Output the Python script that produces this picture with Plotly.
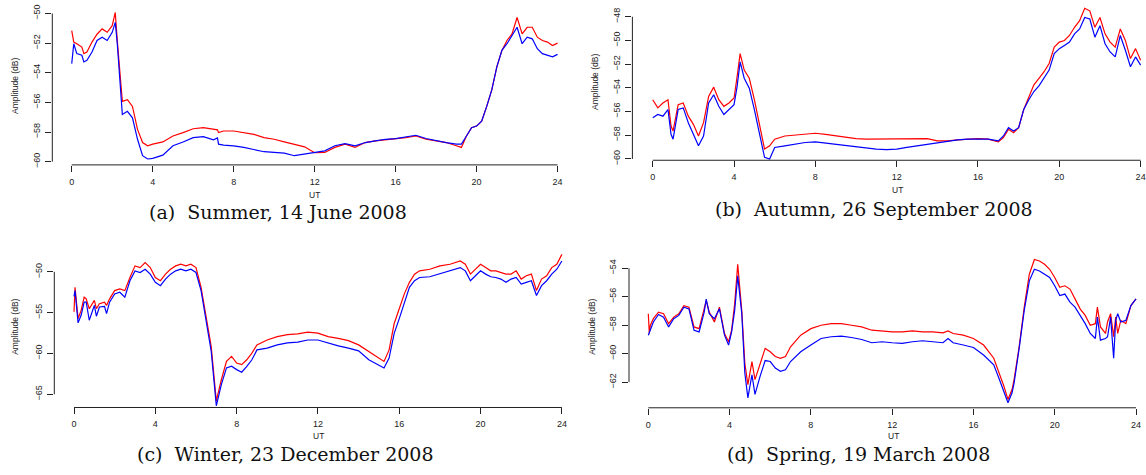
import plotly.graph_objects as go

W, H = 1146, 475

# ---------------- data ----------------
# (a) Summer, 14 June 2008
T_A = [0, 0.1, 0.25, 0.5, 0.6, 0.75, 1.0, 1.25, 1.5, 1.75, 2.0, 2.15, 2.25, 2.4, 2.5, 2.75, 3.0, 3.25, 3.5, 3.75,
       4.0, 4.5, 5.0, 5.5, 6.0, 6.5, 7.0, 7.2, 7.25, 7.5, 8.0, 8.5, 9.0, 9.5, 10.0, 10.5, 11.0, 11.5, 12.0, 12.5,
       13.0, 13.5, 14.0, 14.5, 15.0, 15.5, 16.0, 16.5, 17.0, 17.5, 18.0, 18.5, 19.0, 19.25, 19.5, 19.75, 20.0,
       20.25, 20.5, 20.75, 21.0, 21.25, 21.5, 21.75, 22.0, 22.25, 22.5, 22.75, 23.0, 23.25, 23.5, 23.75, 24.0]
RED_A = [-51.16, -51.93, -52.04, -52.27, -52.71, -52.6, -51.93, -51.4, -51.04, -51.27, -50.82, -49.93, -51.82,
         -54.7, -55.93, -55.82, -56.27, -57.82, -58.71, -58.93, -58.82, -58.67, -58.27, -58.04, -57.78, -57.71,
         -57.82, -57.85, -58.04, -57.93, -57.93, -58.04, -58.16, -58.38, -58.49, -58.67, -58.82, -59.0, -59.4,
         -59.38, -59.04, -58.82, -59.04, -58.71, -58.6, -58.53, -58.49, -58.38, -58.27, -58.49, -58.6, -58.71,
         -58.93, -59.04, -58.27, -57.71, -57.6, -57.27, -56.27, -55.16, -53.6, -52.49, -51.82, -51.38, -50.27,
         -51.38, -50.93, -50.93, -51.6, -51.82, -51.93, -52.16, -52.0]
BLUE_A = [-53.38, -52.04, -52.71, -52.82, -53.27, -53.16, -52.6, -51.82, -51.6, -51.82, -51.27, -50.6, -52.04,
          -54.93, -56.82, -56.6, -57.04, -58.49, -59.6, -59.82, -59.78, -59.56, -58.93, -58.67, -58.38, -58.31,
          -58.53, -58.4, -58.82, -58.89, -58.93, -59.04, -59.2, -59.33, -59.38, -59.42, -59.6, -59.49, -59.4,
          -59.27, -58.93, -58.78, -58.93, -58.71, -58.6, -58.49, -58.44, -58.33, -58.22, -58.44, -58.6, -58.71,
          -58.82, -58.82, -58.27, -57.71, -57.6, -57.27, -56.27, -55.16, -53.6, -52.49, -52.04, -51.49, -50.93,
          -52.04, -51.6, -51.71, -52.38, -52.71, -52.82, -52.93, -52.76]

# (b) Autumn, 26 September 2008
T_B = [0, 0.25, 0.5, 0.75, 0.9, 1.0, 1.25, 1.5, 1.75, 2.0, 2.25, 2.5, 2.75, 3.0, 3.25, 3.5, 3.75, 4.0, 4.15, 4.3,
       4.5, 4.75, 5.0, 5.25, 5.5, 5.75, 6.0, 6.5, 7.0, 7.5, 8.0, 8.5, 9.0, 9.5, 10.0, 10.5, 11.0, 11.5, 12.0, 12.5,
       13.0, 13.5, 14.0, 14.5, 15.0, 15.5, 16.0, 16.5, 17.0, 17.25, 17.5, 17.75, 18.0, 18.25, 18.5, 18.75, 19.0,
       19.25, 19.5, 19.75, 20.0, 20.25, 20.5, 20.75, 21.0, 21.25, 21.5, 21.75, 22.0, 22.25, 22.5, 22.75, 23.0,
       23.25, 23.5, 23.75, 24.0]
RED_B = [-55.0, -55.69, -55.28, -55.0, -57.22, -57.64, -55.42, -55.28, -56.39, -57.08, -58.06, -56.94, -54.72,
         -53.94, -55.0, -55.56, -55.28, -54.86, -53.06, -51.11, -52.5, -53.19, -55.0, -56.94, -59.17, -58.89,
         -58.33, -58.06, -58.0, -57.92, -57.83, -57.92, -58.06, -58.19, -58.28, -58.33, -58.33, -58.33, -58.33,
         -58.33, -58.28, -58.28, -58.47, -58.47, -58.39, -58.33, -58.28, -58.33, -58.56, -58.19, -57.5, -57.78,
         -57.36, -55.83, -54.72, -53.75, -53.19, -52.64, -51.94, -50.56, -50.14, -50.0, -49.58, -48.89, -48.33,
         -47.28, -47.5, -48.89, -48.06, -49.44, -50.14, -50.56, -49.03, -50.0, -51.53, -50.69, -51.67]
BLUE_B = [-56.53, -56.25, -56.39, -55.83, -57.92, -58.33, -55.83, -55.69, -56.94, -57.92, -58.89, -58.06, -55.28,
          -54.58, -55.56, -56.25, -55.83, -55.42, -53.89, -51.81, -53.19, -54.03, -55.83, -57.78, -59.86, -60.0,
          -59.03, -58.89, -58.75, -58.61, -58.56, -58.67, -58.75, -58.89, -58.97, -59.11, -59.17, -59.22, -59.17,
          -59.03, -58.89, -58.75, -58.61, -58.47, -58.39, -58.33, -58.33, -58.33, -58.47, -58.06, -57.36, -57.64,
          -57.36, -55.83, -55.0, -54.31, -53.83, -53.19, -52.5, -51.11, -50.69, -50.42, -50.14, -49.44, -49.03,
          -48.06, -48.19, -49.72, -48.75, -50.28, -50.97, -51.39, -49.58, -50.83, -52.22, -51.39, -52.08]

# (c) Winter, 23 December 2008
T_C = [0, 0.05, 0.2, 0.35, 0.5, 0.6, 0.75, 1.0, 1.1, 1.25, 1.5, 1.6, 1.75, 2.0, 2.25, 2.5, 2.75, 3.0, 3.25, 3.5,
       3.75, 4.0, 4.25, 4.5, 4.75, 5.0, 5.25, 5.5, 5.75, 6.0, 6.25, 6.5, 6.75, 7.0, 7.25, 7.5, 7.75, 8.0, 8.25,
       8.5, 8.75, 9.0, 9.5, 10.0, 10.5, 11.0, 11.5, 12.0, 12.5, 13.0, 13.5, 14.0, 14.5, 15.0, 15.25, 15.5, 15.75,
       16.0, 16.25, 16.5, 16.75, 17.0, 17.5, 18.0, 18.5, 19.0, 19.25, 19.5, 19.75, 20.0, 20.25, 20.5, 20.75, 21.0,
       21.25, 21.5, 21.75, 22.0, 22.25, 22.5, 22.75, 23.0, 23.25, 23.5, 23.75, 24.0]
RED_C = [-54.9, -51.9, -55.73, -54.72, -53.1, -53.31, -54.52, -53.5, -54.52, -53.91, -53.71, -54.11, -53.31, -52.3,
         -52.1, -52.3, -50.69, -49.27, -49.48, -48.87, -49.48, -50.69, -51.09, -50.28, -49.68, -49.27, -49.07,
         -49.27, -49.07, -49.48, -51.9, -55.53, -59.15, -65.81, -63.19, -60.97, -60.36, -61.17, -61.37, -60.77,
         -59.96, -58.95, -58.35, -57.94, -57.7, -57.6, -57.38, -57.5, -57.94, -58.15, -58.43, -58.95, -59.76,
         -60.56, -60.97, -59.56, -56.33, -54.52, -52.7, -51.29, -50.28, -49.88, -49.68, -49.27, -49.07, -48.67,
         -49.07, -50.28, -49.68, -49.07, -49.48, -49.88, -49.88, -50.08, -50.28, -50.28, -49.88, -50.89, -50.48,
         -50.28, -52.3, -50.89, -50.48, -49.48, -49.07, -47.86]
BLUE_C = [-53.0, -52.3, -56.25, -55.32, -53.71, -53.71, -55.93, -54.11, -55.44, -54.31, -54.23, -55.12, -53.71,
          -52.7, -52.5, -53.1, -51.09, -49.88, -50.08, -49.68, -50.28, -51.29, -51.69, -50.89, -50.28, -49.88,
          -49.68, -49.88, -49.68, -50.08, -52.3, -55.93, -59.76, -66.41, -63.79, -61.77, -61.57, -61.98, -62.3,
          -61.57, -60.77, -59.56, -59.35, -58.95, -58.7, -58.6, -58.35, -58.35, -58.75, -59.07, -59.35, -59.68,
          -60.77, -61.37, -61.77, -60.56, -57.54, -55.73, -53.91, -51.9, -51.09, -50.69, -50.6, -50.2, -49.88,
          -49.48, -49.88, -51.09, -50.48, -49.88, -50.28, -50.6, -50.69, -50.89, -51.29, -50.89, -50.69, -51.49,
          -51.29, -51.09, -52.9, -51.69, -51.09, -50.28, -49.68, -48.67]

# (d) Spring, 19 March 2008
T_D = [0, 0.05, 0.1, 0.25, 0.5, 0.75, 1.0, 1.25, 1.5, 1.75, 2.0, 2.25, 2.5, 2.75, 2.85, 3.0, 3.25, 3.5, 3.75, 3.95,
       4.1, 4.25, 4.4, 4.6, 4.75, 4.9, 5.1, 5.25, 5.5, 5.75, 6.0, 6.25, 6.5, 6.75, 7.0, 7.5, 8.0, 8.5, 9.0, 9.5,
       10.0, 10.5, 11.0, 11.5, 12.0, 12.5, 13.0, 13.5, 14.0, 14.5, 14.75, 15.0, 15.5, 16.0, 16.5, 17.0, 17.25,
       17.5, 17.7, 17.9, 18.0, 18.25, 18.5, 18.75, 19.0, 19.25, 19.5, 19.75, 20.0, 20.25, 20.5, 20.75, 21.0,
       21.25, 21.5, 21.75, 22.0, 22.1, 22.25, 22.5, 22.6, 22.75, 22.9, 23.0, 23.1, 23.25, 23.5, 23.75, 24.0]
RED_D = [-57.19, -58.58, -58.0, -57.54, -57.08, -57.19, -57.89, -57.43, -57.19, -56.62, -56.73, -58.12, -58.24,
         -56.85, -56.27, -57.08, -57.77, -56.73, -58.58, -59.16, -58.35, -56.5, -53.72, -56.96, -60.67, -62.17,
         -60.55, -61.82, -60.67, -59.63, -59.86, -60.2, -60.32, -60.2, -59.51, -58.7, -58.24, -58.0, -57.89,
         -57.89, -58.0, -58.12, -58.35, -58.42, -58.47, -58.47, -58.4, -58.47, -58.47, -58.54, -58.4, -58.58,
         -58.7, -58.93, -59.39, -60.32, -61.25, -62.29, -63.21, -62.52, -61.82, -59.51, -56.73, -54.42, -53.38,
         -53.49, -53.72, -54.07, -54.65, -55.34, -55.23, -55.46, -56.15, -56.85, -57.31, -58.0, -57.89, -56.73,
         -58.12, -58.58, -57.77, -57.19, -58.81, -57.43, -58.58, -57.66, -57.89, -56.62, -56.15]
BLUE_D = [-58.7, -58.5, -58.24, -57.77, -57.24, -57.43, -58.12, -57.54, -57.31, -56.73, -56.85, -58.35, -58.47,
          -57.08, -56.16, -57.19, -57.54, -56.85, -58.7, -59.39, -58.47, -56.96, -54.53, -57.19, -61.36, -63.1,
          -61.48, -62.86, -61.59, -60.48, -60.55, -61.01, -61.24, -61.13, -60.55, -59.86, -59.39, -58.93, -58.81,
          -58.77, -58.86, -59.0, -59.23, -59.16, -59.23, -59.28, -59.16, -59.09, -59.16, -59.23, -58.93, -59.23,
          -59.39, -59.56, -60.09, -60.78, -61.71, -62.75, -63.44, -62.75, -62.06, -59.63, -56.96, -54.88, -54.07,
          -54.19, -54.42, -54.65, -55.23, -55.92, -55.81, -56.38, -56.73, -57.31, -57.89, -58.58, -58.93, -57.43,
          -59.05, -58.93, -58.81, -57.43, -60.32, -57.66, -57.19, -57.77, -57.66, -56.62, -56.15]

X_TICKS = [0, 4, 8, 12, 16, 20, 24]
Y_TICKS_A = [-60, -58, -56, -54, -52, -50]
Y_TICKS_B = [-60, -58, -56, -54, -52, -50, -48]
Y_TICKS_C = [-65, -60, -55, -50]
Y_TICKS_D = [-62, -60, -58, -56, -54]

CAPTIONS = ["(a)  Summer, 14 June 2008", "(b)  Autumn, 26 September 2008",
            "(c)  Winter, 23 December 2008", "(d)  Spring, 19 March 2008"]

# ---------------- layout helpers (pixel geometry) ----------------
def px_x(p):
    return p / W

def px_y(p):
    return 1 - p / H

panels = [
    dict(t=T_A, r=RED_A, b=BLUE_A, xr=[-0.96, 24.96], xpx=(52.3, 577.0), yr=[-60.22, -49.49], ypx=(166.0, 5.0),
         yt=Y_TICKS_A, amp=(15, 86), ut=(314, 196), cap=(278, 214)),
    dict(t=T_B, r=RED_B, b=BLUE_B, xr=[-1.0, 24.25], xpx=(632.4, 1145.7), yr=[-60.11, -46.92], ypx=(161.3, 3.0),
         yt=Y_TICKS_B, amp=(595, 82), ut=(897, 191), cap=(874, 211)),
    dict(t=T_C, r=RED_C, b=BLUE_C, xr=[-0.97, 24.97], xpx=(54.3, 581.6), yr=[-66.62, -47.06], ypx=(411.7, 250.0),
         yt=Y_TICKS_C, amp=(15, 330), ut=(318, 441), cap=(285, 459)),
    dict(t=T_D, r=RED_D, b=BLUE_D, xr=[-0.95, 24.3], xpx=(629.0, 1142.1), yr=[-63.80, -52.91], ypx=(412.0, 255.0),
         yt=Y_TICKS_D, amp=(592, 330), ut=(893, 441), cap=(858, 459)),
]

fig = go.Figure()
layout = dict(width=W, height=H, margin=dict(l=0, r=0, t=0, b=0), showlegend=False,
              plot_bgcolor="white", paper_bgcolor="white")
shapes = []
annotations = []
AX = "#222222"
tickfont = dict(family="Liberation Sans, Arial, sans-serif", size=9, color="#222222")
smallfont = dict(family="Liberation Sans, Arial, sans-serif", size=8.5, color="#222222")

for i, p in enumerate(panels, start=1):
    xa = "x" if i == 1 else f"x{i}"
    ya = "y" if i == 1 else f"y{i}"
    fig.add_trace(go.Scatter(x=p["t"], y=p["r"], mode="lines", line=dict(color="#ff0000", width=1.2),
                             xaxis=xa, yaxis=ya, hoverinfo="skip"))
    fig.add_trace(go.Scatter(x=p["t"], y=p["b"], mode="lines", line=dict(color="#0000ff", width=1.2),
                             xaxis=xa, yaxis=ya, hoverinfo="skip"))
    xkey = "xaxis" if i == 1 else f"xaxis{i}"
    ykey = "yaxis" if i == 1 else f"yaxis{i}"
    layout[xkey] = dict(domain=[px_x(p["xpx"][0]), px_x(p["xpx"][1])], range=p["xr"], anchor=ya,
                        tickmode="array", tickvals=X_TICKS, ticktext=[str(v) for v in X_TICKS],
                        ticks="outside", ticklen=6, tickwidth=1, tickcolor=AX, showline=False,
                        showgrid=False, zeroline=False, tickfont=tickfont, ticklabelstandoff=2)
    layout[ykey] = dict(domain=[px_y(p["ypx"][0]), px_y(p["ypx"][1])], range=p["yr"], anchor=xa,
                        tickmode="array", tickvals=p["yt"], ticktext=["\u2212" + str(abs(v)) for v in p["yt"]],
                        ticks="outside", ticklen=6, tickwidth=1, tickcolor=AX, showline=False,
                        showgrid=False, zeroline=False, tickfont=tickfont, tickangle=-90,
                        ticklabelstandoff=2)
    # R-style detached axis lines spanning first to last tick
    shapes.append(dict(type="line", xref=xa, yref=f"{ya} domain", x0=X_TICKS[0], x1=X_TICKS[-1], y0=0, y1=0,
                       line=dict(color=AX, width=1)))
    shapes.append(dict(type="line", xref=f"{xa} domain", yref=ya, x0=0, x1=0, y0=min(p["yt"]),
                       y1=max(p["yt"]), line=dict(color=AX, width=1)))
    annotations.append(dict(text="Amplitude (dB)", x=px_x(p["amp"][0]), y=px_y(p["amp"][1]), xref="paper",
                            yref="paper", textangle=-90, showarrow=False, xanchor="center", yanchor="middle",
                            font=smallfont))
    annotations.append(dict(text="UT", x=px_x(p["ut"][0]), y=px_y(p["ut"][1]), xref="paper", yref="paper",
                            showarrow=False, xanchor="center", yanchor="middle", font=smallfont))
    annotations.append(dict(text=CAPTIONS[i - 1], x=px_x(p["cap"][0]), y=px_y(p["cap"][1]), xref="paper",
                            yref="paper", showarrow=False, xanchor="center", yanchor="middle",
                            font=dict(family="DejaVu Serif, serif", size=19, color="#111111")))

layout["shapes"] = shapes
layout["annotations"] = annotations
fig.update_layout(**layout)
fig.write_html("out.html")
